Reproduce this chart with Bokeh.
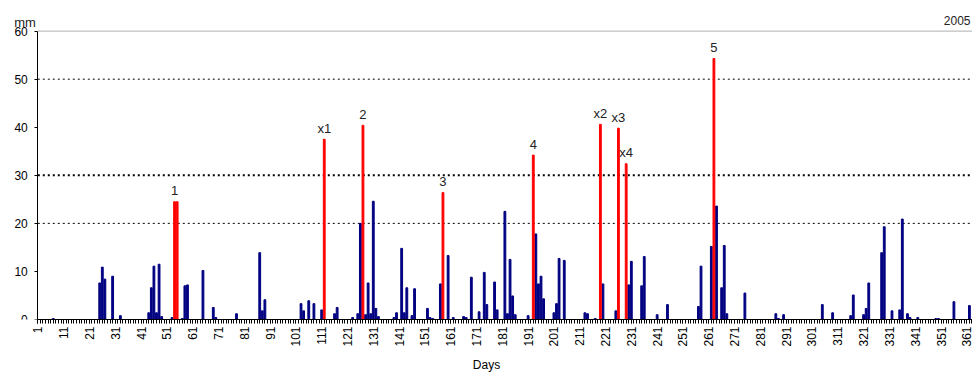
import math
from bokeh.plotting import figure
from bokeh.models import Range1d, FixedTicker, ColumnDataSource
from bokeh.core.properties import value
from bokeh.embed import file_html
from bokeh.resources import INLINE

# Daily rainfall (mm), 2005
days = [7, 25, 26, 27, 30, 33, 44, 45, 46, 47, 48, 49, 53, 57, 58, 59, 65, 69, 70, 78,
        87, 88, 89, 103, 104, 106, 108, 111, 116, 117, 123, 125, 126, 128, 129, 130, 131,
        132, 133, 139, 140, 142, 143, 144, 146, 147, 152, 153, 154, 157, 160, 162, 166,
        167, 169, 172, 174, 175, 178, 179, 182, 183, 184, 185, 186, 191, 194, 195, 196,
        197, 201, 202, 203, 205, 213, 214, 217, 220, 225, 230, 231, 235, 236, 241, 245,
        257, 258, 262, 264, 266, 267, 268, 275, 287, 288, 290, 305, 309, 316, 317, 321,
        322, 323, 328, 329, 332, 335, 336, 338, 339, 342, 349, 350, 356, 362]
rain = [0.2, 7.6, 10.9, 8.4, 9.0, 0.8, 1.4, 6.6, 11.1, 1.4, 11.5, 0.6, 0.4, 0.2, 7.0, 7.2,
        10.2, 2.5, 0.4, 1.2, 13.9, 1.8, 4.1, 3.3, 1.8, 3.9, 3.3, 2.0, 1.2, 2.5, 0.4, 1.2,
        20.0, 1.0, 7.6, 1.2, 24.6, 2.3, 0.6, 0.4, 1.4, 14.8, 1.4, 6.6, 0.8, 6.4, 2.3, 0.4,
        0.2, 7.4, 13.3, 0.4, 0.6, 0.4, 8.8, 1.6, 9.8, 3.1, 7.8, 2.0, 22.5, 1.2, 12.5, 4.9,
        1.0, 0.8, 17.8, 7.4, 9.0, 4.3, 1.4, 3.3, 12.7, 12.3, 1.4, 1.2, 0.2, 7.4, 1.8, 7.2,
        12.1, 7.0, 13.1, 1.0, 3.1, 2.7, 11.1, 15.2, 23.6, 6.6, 15.4, 1.2, 5.5, 1.2, 0.2,
        1.0, 3.1, 1.4, 0.8, 5.1, 1.0, 2.3, 7.6, 13.9, 19.3, 1.8, 2.0, 20.9, 1.2, 0.4, 0.4,
        0.2, 0.2, 3.7, 2.9]

# Marked events (red bars)
event_days = [54, 55, 112, 127, 158, 193, 219, 226, 229, 263]
event_rain = [24.5, 24.5, 37.5, 40.4, 26.4, 34.2, 40.6, 39.8, 32.4, 54.3]

label_days = [54, 112, 127, 158, 193, 219, 226, 229, 263]
label_rain = [24.5, 37.5, 40.4, 26.4, 34.2, 40.6, 39.8, 32.4, 54.3]
label_text = ["1", "x1", "2", "3", "4", "x2", "x3", "x4", "5"]

x_ticks = list(range(1, 362, 10))
y_ticks = [0, 10, 20, 30, 40, 50, 60]
year = "2005"
unit = "mm"
x_title = "Days"

FONT = "Liberation Sans"

X0, X1 = -13.45, 363.2
Y1 = 66.37

p = figure(width=972, height=374, output_backend="svg", toolbar_location=None,
           x_range=Range1d(X0, X1), y_range=Range1d(0, Y1),
           min_border_left=0, min_border_right=0, min_border_top=0, min_border_bottom=51)
p.outline_line_color = None
p.grid.visible = False
p.background_fill_color = "white"

# gridlines (start at the value axis)
p.segment(x0=[1], y0=[60], x1=[X1 + 5], y1=[60], line_color="#b0b0b0", line_width=1)
p.segment(x0=[1, 1], y0=[50, 20], x1=[X1 + 5, X1 + 5], y1=[50, 20], line_color="black",
          line_width=1, line_dash="2 3")
p.segment(x0=[1], y0=[30], x1=[X1 + 5], y1=[30], line_color="black", line_width=2,
          line_dash="2 3")

p.vbar(x=days, top=rain, width=0.7, color="#000080")
p.vbar(x=event_days, top=event_rain, width=0.7, color="#ff0000")

src = ColumnDataSource(dict(x=label_days, y=label_rain, t=label_text))
p.text(x="x", y="y", text="t", source=src, text_align="center", text_baseline="alphabetic",
       y_offset=-11, text_font=value(FONT), text_font_size="13px", text_color="#222222")

p.text(x=[1], y=[60], text=[unit], text_align="right", text_baseline="alphabetic",
       x_offset=-2, y_offset=-9, text_font=value(FONT), text_font_size="13px",
       text_color="#222222")
p.text(x=[X1], y=[60], text=[year], text_align="right", text_baseline="alphabetic",
       x_offset=-2, y_offset=-11, text_font=value(FONT), text_font_size="12px",
       text_color="#222222")

# axes
xa = p.xaxis[0]
xa.ticker = FixedTicker(ticks=x_ticks, minor_ticks=list(range(1, 366)))
xa.bounds = (1, 366)
xa.major_label_orientation = math.pi / 2
xa.major_label_text_font = FONT
xa.major_label_text_font_size = "12px"
xa.major_label_text_color = "black"
xa.major_label_standoff = 3
xa.major_tick_out = 4
xa.major_tick_in = 0
xa.minor_tick_out = 4
xa.minor_tick_in = 0
xa.axis_line_color = "black"
xa.major_tick_line_color = "black"
xa.minor_tick_line_color = "black"
xa.axis_label = x_title
xa.axis_label_text_font = FONT
xa.axis_label_text_font_size = "12px"
xa.axis_label_text_font_style = "normal"
xa.axis_label_text_color = "black"
xa.axis_label_standoff = 8

ya = p.yaxis[0]
ya.fixed_location = 1
ya.bounds = (0, 60)
ya.ticker = FixedTicker(ticks=y_ticks)
ya.major_label_text_font = FONT
ya.major_label_text_font_size = "12px"
ya.major_label_text_color = "black"
ya.major_label_standoff = 7
ya.major_tick_out = 3
ya.major_tick_in = 0
ya.minor_tick_line_color = None
ya.axis_line_color = "black"
ya.major_tick_line_color = "black"

open("out.html", "w").write(file_html(p, INLINE))
